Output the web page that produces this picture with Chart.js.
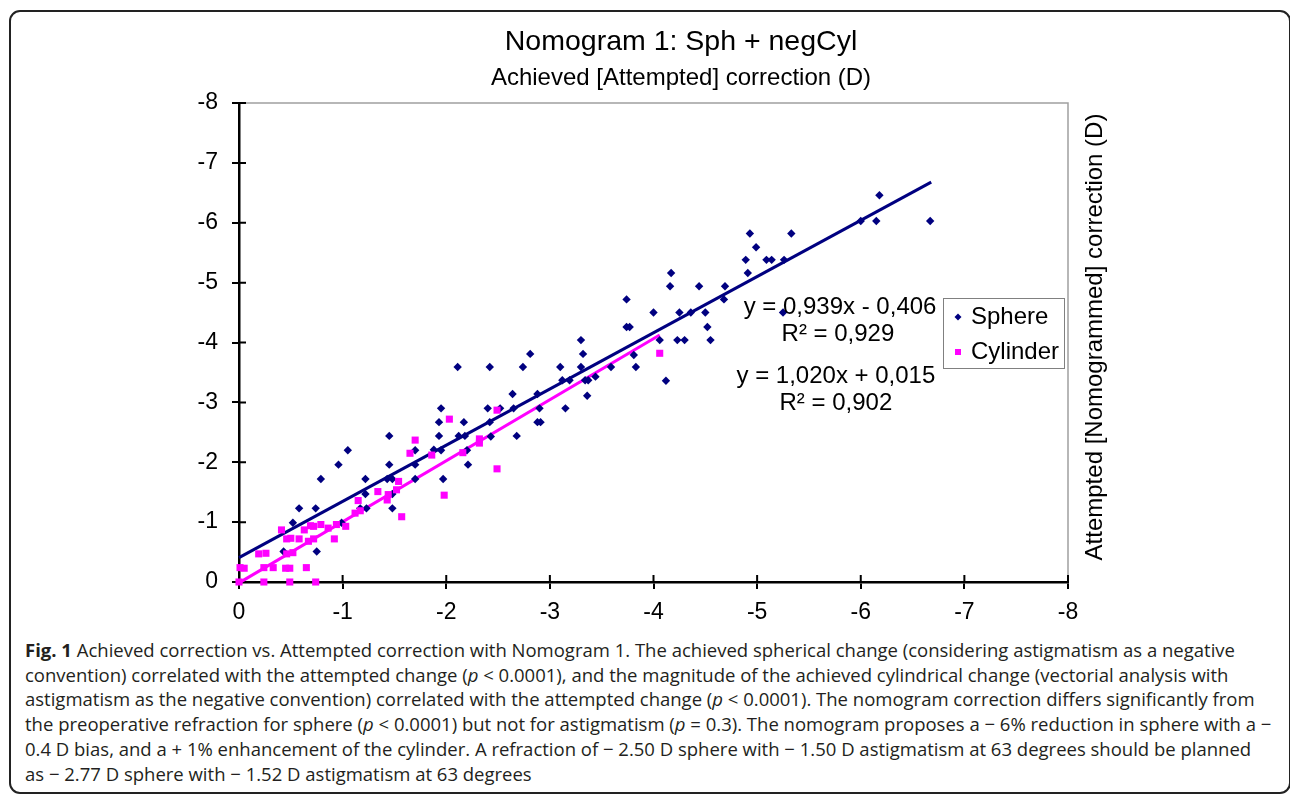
<!DOCTYPE html>
<html>
<head>
<meta charset="utf-8">
<script src="https://cdn.jsdelivr.net/npm/chart.js@4.4.1/dist/chart.umd.min.js"></script>
<style>
    html, body { margin: 0; padding: 0; background: #fff; }
    body { width: 1290px; height: 795px; position: relative; overflow: hidden; }
    #frame {
        position: absolute; left: 9px; top: 10px; width: 1282px; height: 784px;
        box-sizing: border-box; border: 2px solid #222; border-radius: 11px;
    }
    #chartBox { position: absolute; left: 0; top: 0; width: 1290px; height: 630px; }
    #caption {
        position: absolute; left: 25px; top: 638px;
        font-family: "Open Sans", sans-serif; font-size: 18.5px; line-height: 24.7px;
        color: #231f20; white-space: nowrap;
    }
</style>
</head>
<body>
<div id="frame"></div>
<div id="chartBox"><canvas id="myChart" width="1290" height="630"></canvas></div>
<div id="caption">
<b>Fig. 1</b> Achieved correction vs. Attempted correction with Nomogram 1. The achieved spherical change (considering astigmatism as a negative<br>
convention) correlated with the attempted change (<i>p</i> &lt; 0.0001), and the magnitude of the achieved cylindrical change (vectorial analysis with<br>
astigmatism as the negative convention) correlated with the attempted change (<i>p</i> &lt; 0.0001). The nomogram correction differs significantly from<br>
the preoperative refraction for sphere (<i>p</i> &lt; 0.0001) but not for astigmatism (<i>p</i> = 0.3). The nomogram proposes a − 6% reduction in sphere with a −<br>
0.4 D bias, and a + 1% enhancement of the cylinder. A refraction of − 2.50 D sphere with − 1.50 D astigmatism at 63 degrees should be planned<br>
as − 2.77 D sphere with − 1.52 D astigmatism at 63 degrees
</div>
<script>
// achieved (x) and attempted (y) correction, dioptres
const sphereAchieved = [
    -1.45, -1.05, -0.96, -1.70, -1.45, -1.70, -0.79, -1.22, -1.43, -1.48, -1.70,
    -1.22, -1.48, -0.58, -0.74, -1.17, -1.23, -1.48, -0.52, -0.99, -0.43, -0.75,
    -3.30, -3.32, -2.81, -2.11, -2.42, -2.74, -3.10, -3.30, -3.59, -3.81, -3.83,
    -3.12, -3.19, -3.34, -3.37, -3.44, -2.64, -2.88, -3.36, -1.95, -2.40, -2.52,
    -2.65, -2.90, -3.15, -1.93, -2.17, -2.42, -2.88, -2.91, -1.93, -2.12, -2.18,
    -2.43, -2.68, -1.88, -1.95, -2.20, -2.21, -1.97,
    -4.89, -5.09, -5.14, -5.26, -4.17, -4.91, -4.16, -4.44, -4.69, -3.74, -4.68,
    -4.00, -4.25, -4.36, -4.50, -5.25, -3.74, -3.77, -4.52, -4.06, -4.23, -4.30,
    -4.55, -4.12, -4.93, -5.33, -4.99, -6.18, -6.00, -6.15, -6.67
];
const sphereAttempted = [
    -2.44, -2.20, -1.96, -2.20, -1.96, -1.96, -1.72, -1.72, -1.72, -1.72, -1.72,
    -1.47, -1.47, -1.23, -1.23, -1.23, -1.23, -1.23, -0.99, -0.99, -0.51, -0.51,
    -4.04, -3.81, -3.81, -3.59, -3.59, -3.59, -3.59, -3.59, -3.59, -3.79, -3.59,
    -3.37, -3.37, -3.37, -3.37, -3.43, -3.14, -3.14, -3.11, -2.90, -2.90, -2.90,
    -2.90, -2.90, -2.90, -2.67, -2.67, -2.67, -2.67, -2.67, -2.44, -2.44, -2.44,
    -2.43, -2.44, -2.21, -2.20, -2.20, -1.96, -1.72,
    -5.38, -5.38, -5.38, -5.38, -5.16, -5.16, -4.94, -4.94, -4.94, -4.72, -4.72,
    -4.50, -4.50, -4.50, -4.50, -4.50, -4.26, -4.26, -4.26, -4.04, -4.04, -4.04,
    -4.04, -3.36, -5.82, -5.82, -5.59, -6.46, -6.03, -6.03, -6.03
];
const cylinderAchieved = [
    -1.70, -1.65, -1.34, -1.15, -1.17, -1.54, -1.52, -1.44, -1.43, -1.57, -1.12,
    -1.03, -0.94, -0.79, -0.69, -0.72, -0.63, -0.86, -0.92, -0.41, -0.50, -0.46,
    -0.58, -0.67, -0.72, -0.19, -0.26, -0.46, -0.52, -0.01, -0.05, -0.24, -0.33,
    -0.45, -0.49, -0.65, 0.00, -0.24, -0.49, -0.74,
    -2.49, -2.03, -2.32, -2.32, -2.16, -1.86, -2.49, -1.98, -4.06
];
const cylinderAttempted = [
    -2.37, -2.15, -1.51, -1.36, -1.19, -1.68, -1.54, -1.46, -1.37, -1.09, -1.15,
    -0.93, -0.96, -0.96, -0.94, -0.93, -0.87, -0.90, -0.72, -0.87, -0.73, -0.72,
    -0.72, -0.68, -0.72, -0.47, -0.48, -0.47, -0.49, -0.24, -0.23, -0.24, -0.24,
    -0.23, -0.23, -0.24, 0.00, 0.00, 0.00, 0.00,
    -2.87, -2.72, -2.39, -2.32, -2.16, -2.12, -1.89, -1.45, -3.82
];

// linear trendlines as printed on the chart
const sphereFit = { slope: 0.939, intercept: -0.406, from: -6.68, to: 0 };
const cylinderFit = { slope: 1.020, intercept: 0.015, from: -4.06, to: 0 };

const tickValues = [0, -1, -2, -3, -4, -5, -6, -7, -8];
const tickLabels = ['0', '-1', '-2', '-3', '-4', '-5', '-6', '-7', '-8'];

const seriesNames = ['Sphere', 'Cylinder'];
const equationLines = ['y = 0,939x - 0,406', 'R² = 0,929', 'y = 1,020x + 0,015', 'R² = 0,902'];

const NAVY = '#000080';
const MAGENTA = '#ff00ff';
const FONT = '"Liberation Sans", Arial, sans-serif';

function pairs(xs, ys) {
    return xs.map((x, i) => ({ x: x, y: ys[i] }));
}

function fitLine(fit) {
    return [fit.from, fit.to].map(x => ({ x: x, y: fit.slope * x + fit.intercept }));
}

function tickText(value) {
    const i = tickValues.indexOf(value);
    return i >= 0 ? tickLabels[i] : '';
}

// titles, legend box, trendline labels, crossing ticks
const decorations = {
    id: 'decorations',
    beforeDatasetsDraw(chart) {
        const ctx = chart.ctx;
        const area = chart.chartArea;
        const xs = chart.scales.x, ys = chart.scales.y;
        ctx.save();
        ctx.strokeStyle = '#a0a0a0';
        ctx.lineWidth = 1.5;
        ctx.beginPath();
        ctx.moveTo(area.left, area.top);
        ctx.lineTo(area.right, area.top);
        ctx.lineTo(area.right, area.bottom);
        ctx.stroke();

        ctx.strokeStyle = '#000';
        ctx.lineWidth = 2;
        ctx.beginPath();
        tickValues.forEach(v => {
            const px = xs.getPixelForValue(v);
            ctx.moveTo(px, area.bottom);
            ctx.lineTo(px, area.bottom - 7);
            const py = ys.getPixelForValue(v);
            ctx.moveTo(area.left, py);
            ctx.lineTo(area.left + 7, py);
        });
        ctx.stroke();
        ctx.restore();
    },
    afterDraw(chart) {
        const ctx = chart.ctx;
        const xs = chart.scales.x, ys = chart.scales.y;
        ctx.save();
        ctx.fillStyle = '#000';
        ctx.textAlign = 'center';
        ctx.textBaseline = 'middle';

        ctx.font = '28.5px ' + FONT;
        ctx.fillText('Nomogram 1: Sph + negCyl', 681, 42);
        ctx.font = '24px ' + FONT;
        ctx.fillText('Achieved [Attempted] correction (D)', 681, 78);

        ctx.save();
        ctx.translate(1095, 337);
        ctx.rotate(-Math.PI / 2);
        ctx.fillText('Attempted [Nomogrammed] correction (D)', 0, 0);
        ctx.restore();

        // trendline equations
        const eqPos = [[-5.80, -4.58], [-5.78, -4.14], [-5.76, -3.43], [-5.76, -2.99]];
        equationLines.forEach((txt, i) => {
            ctx.fillText(txt, xs.getPixelForValue(eqPos[i][0]), ys.getPixelForValue(eqPos[i][1]));
        });

        // legend
        ctx.strokeStyle = '#808080';
        ctx.lineWidth = 1;
        ctx.strokeRect(943.5, 298.5, 121, 70);
        ctx.textAlign = 'left';
        ctx.fillText(seriesNames[0], 971, 317);
        ctx.fillText(seriesNames[1], 971, 352);
        ctx.fillStyle = NAVY;
        ctx.beginPath();
        ctx.moveTo(958 - 3.5, 317);
        ctx.lineTo(958, 317 - 3.5);
        ctx.lineTo(958 + 3.5, 317);
        ctx.lineTo(958, 317 + 3.5);
        ctx.closePath();
        ctx.fill();
        ctx.fillStyle = MAGENTA;
        ctx.fillRect(955, 349, 6, 6);
        ctx.restore();
    }
};

const ctx = document.getElementById('myChart').getContext('2d');

new Chart(ctx, {
    type: 'scatter',
    data: {
        datasets: [
            {
                label: seriesNames[1],
                data: pairs(cylinderAchieved, cylinderAttempted),
                pointStyle: 'rect',
                pointRadius: 5,
                backgroundColor: MAGENTA,
                borderColor: MAGENTA,
                borderWidth: 0,
                clip: false
            },
            {
                label: seriesNames[0],
                data: pairs(sphereAchieved, sphereAttempted),
                pointStyle: 'rectRot',
                pointRadius: 4.2,
                backgroundColor: NAVY,
                borderColor: NAVY,
                borderWidth: 0,
                clip: false
            },
            {
                label: 'Cylinder trend',
                data: fitLine(cylinderFit),
                showLine: true,
                pointRadius: 0,
                borderColor: MAGENTA,
                borderWidth: 3,
                clip: false
            },
            {
                label: 'Sphere trend',
                data: fitLine(sphereFit),
                showLine: true,
                pointRadius: 0,
                borderColor: NAVY,
                borderWidth: 3,
                clip: false
            }
        ]
    },
    options: {
        responsive: false,
        animation: false,
        layout: { padding: { top: 103, right: 222, left: 0, bottom: 0 } },
        plugins: {
            legend: { display: false },
            tooltip: { enabled: false },
            title: { display: false }
        },
        scales: {
            x: {
                type: 'linear',
                min: -8,
                max: 0,
                reverse: true,
                afterFit: scale => { scale.height = 48; },
                afterBuildTicks: scale => { scale.ticks = tickValues.map(v => ({ value: v })); },
                ticks: {
                    callback: tickText,
                    color: '#000',
                    padding: 10,
                    maxRotation: 0,
                    font: { family: FONT, size: 23 }
                },
                grid: { drawOnChartArea: false, tickLength: 7, color: '#000', lineWidth: 2 },
                border: { color: '#000', width: 2.5 }
            },
            y: {
                type: 'linear',
                min: -8,
                max: 0,
                reverse: true,
                afterFit: scale => { scale.width = 239; },
                afterBuildTicks: scale => { scale.ticks = tickValues.map(v => ({ value: v })); },
                ticks: {
                    callback: tickText,
                    color: '#000',
                    padding: 14,
                    font: { family: FONT, size: 23 }
                },
                grid: { drawOnChartArea: false, tickLength: 7, color: '#000', lineWidth: 2 },
                border: { color: '#000', width: 2.5 }
            }
        }
    },
    plugins: [decorations]
});
</script>
</body>
</html>
